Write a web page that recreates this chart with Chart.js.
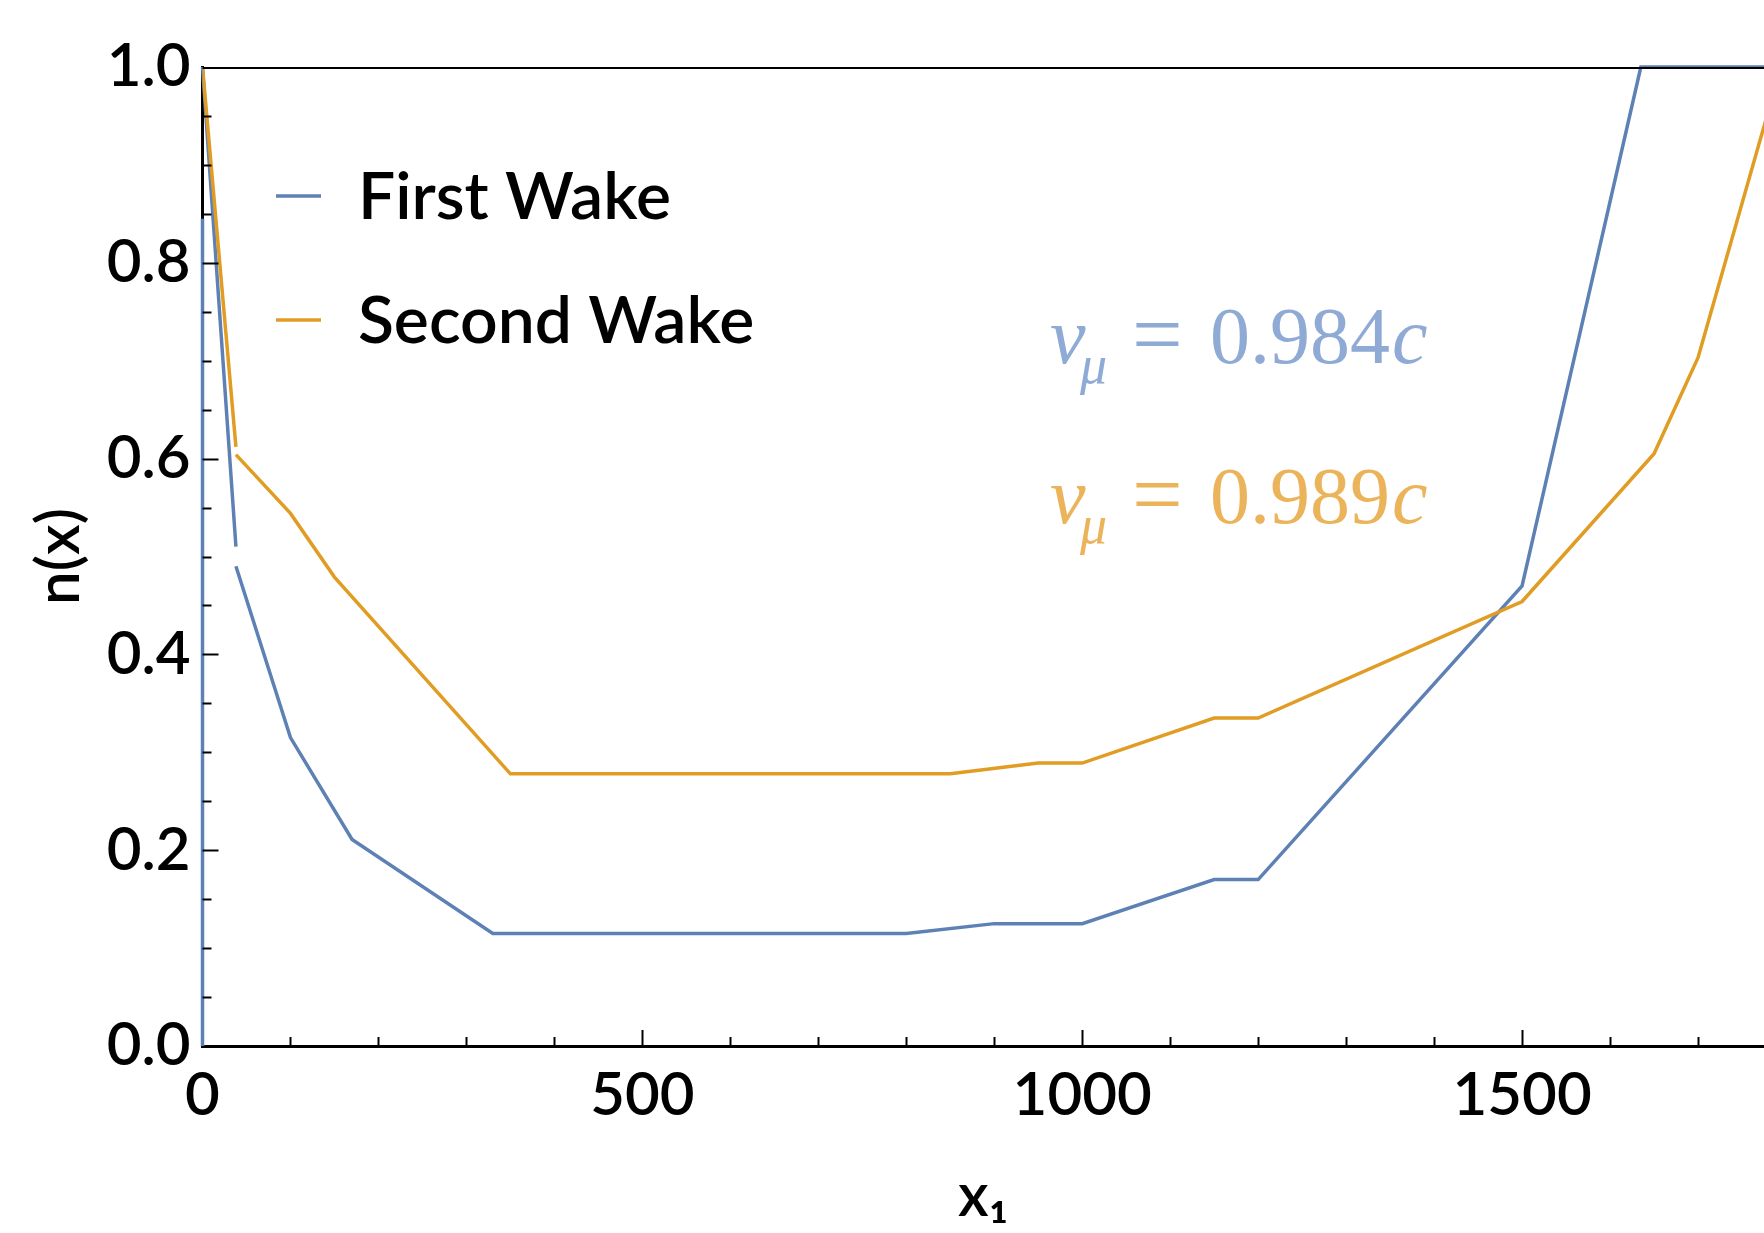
<!DOCTYPE html>
<html>
<head>
<meta charset="utf-8">
<title>n(x) wakes</title>
<script src="https://cdn.jsdelivr.net/npm/chart.js@4/dist/chart.umd.min.js"></script>
<style>
	body { margin: 0; background: #ffffff; }
	canvas { display: block; }
</style>
</head>
<body>
<canvas id="wakeChart" width="1764" height="1233"></canvas>
<script>
'use strict';

// values (null = break in the line)
const firstWakeX = [0, 0, 0, 0, 38, 38, 38, 100, 170, 330, 800, 900, 1000, 1150, 1200, 1500, 1635, 1780];
const firstWakeY = [0, 0.845, null, 1.0, 0.51, null, 0.49, 0.315, 0.211, 0.115, 0.115, 0.125, 0.125, 0.170, 0.170, 0.470, 1.0, 1.0];

const secondWakeX = [0, 38, 38, 38, 100, 150, 350, 850, 950, 1000, 1150, 1200, 1500, 1650, 1700, 1780];
const secondWakeY = [1.0, 0.612, null, 0.604, 0.544, 0.479, 0.278, 0.278, 0.289, 0.289, 0.335, 0.335, 0.454, 0.605, 0.703, 0.955];

const seriesLabels = ['First Wake', 'Second Wake'];
const seriesColors = ['#5e81b5', '#e19c24'];
const noteColors = ['#8eaad5', '#ebb45a'];
const noteValues = ['0.984', '0.989'];

const xTickValues = [0, 500, 1000, 1500];
const yTickValues = [0, 0.2, 0.4, 0.6, 0.8, 1.0];

const sansFont = "Lato, 'Open Sans', sans-serif";
const serifFont = "'Liberation Serif', 'DejaVu Serif', serif";

function toPoints(xs, ys) {
	let points = [];
	for (let i = 0; i < xs.length; i++) {
		points.push({ x: xs[i], y: ys[i] });
	}
	return points;
}

// inward ticks, top frame line, legend and velocity notes
const framePlugin = {
	id: 'framePlugin',
	afterDraw(chart) {
		const ctx = chart.ctx;
		const area = chart.chartArea;
		const xs = chart.scales.x;
		const ys = chart.scales.y;

		ctx.save();
		ctx.strokeStyle = '#000000';

		// top frame
		ctx.lineWidth = 2;
		ctx.beginPath();
		ctx.moveTo(area.left, area.top + 1);
		ctx.lineTo(area.right, area.top + 1);
		ctx.stroke();

		// x ticks every 100, long every 500
		ctx.lineWidth = 2;
		for (let v = 100; v < xs.max; v += 100) {
			const px = Math.round(xs.getPixelForValue(v)) + 0.5;
			const len = v % 500 === 0 ? 16 : 9;
			ctx.beginPath();
			ctx.moveTo(px, area.bottom);
			ctx.lineTo(px, area.bottom - len);
			ctx.stroke();
		}
		// y ticks every 0.05, long every 0.2
		for (let i = 1; i < 20; i++) {
			const v = i * 0.05;
			const py = Math.round(ys.getPixelForValue(v)) + 0.5;
			const len = i % 4 === 0 ? 16 : 9;
			ctx.beginPath();
			ctx.moveTo(area.left, py);
			ctx.lineTo(area.left + len, py);
			ctx.stroke();
		}

		// legend
		ctx.font = '600 66px ' + sansFont;
		ctx.textBaseline = 'middle';
		ctx.textAlign = 'left';
		const legendY = [196, 320];
		for (let i = 0; i < seriesLabels.length; i++) {
			ctx.strokeStyle = seriesColors[i];
			ctx.lineWidth = 3.5;
			ctx.beginPath();
			ctx.moveTo(276, legendY[i]);
			ctx.lineTo(321, legendY[i]);
			ctx.stroke();
			ctx.fillStyle = '#000000';
			ctx.fillText(seriesLabels[i], 358, legendY[i] + 2);
		}

		// v_mu = ...c notes
		const noteBase = [363, 523];
		ctx.textBaseline = 'alphabetic';
		for (let i = 0; i < noteValues.length; i++) {
			const b = noteBase[i];
			ctx.fillStyle = noteColors[i];
			ctx.font = 'italic 80px ' + serifFont;
			ctx.fillText('v', 1050, b);
			ctx.font = 'italic 54px ' + serifFont;
			ctx.fillText('\u03bc', 1080, b + 20);
			ctx.font = '90px ' + serifFont;
			ctx.fillText('=', 1132, b + 2);
			ctx.font = '80px ' + serifFont;
			ctx.fillText(noteValues[i], 1210, b);
			const w = ctx.measureText(noteValues[i]).width;
			ctx.font = 'italic 80px ' + serifFont;
			ctx.fillText('c', 1210 + w + 2, b);
		}
		ctx.restore();
	}
};

const chart = new Chart(document.getElementById('wakeChart'), {
	type: 'scatter',
	data: {
		datasets: [{
			label: seriesLabels[0],
			data: toPoints(firstWakeX, firstWakeY),
			showLine: true,
			borderColor: seriesColors[0],
			backgroundColor: seriesColors[0],
			borderWidth: 3.5,
			pointRadius: 0,
			spanGaps: false,
			clip: 4,
			order: 2
		}, {
			label: seriesLabels[1],
			data: toPoints(secondWakeX, secondWakeY),
			showLine: true,
			borderColor: seriesColors[1],
			backgroundColor: seriesColors[1],
			borderWidth: 3.5,
			pointRadius: 0,
			spanGaps: false,
			order: 1
		}]
	},
	options: {
		responsive: false,
		animation: false,
		devicePixelRatio: 1,
		layout: {
			padding: { top: 67, right: 0, bottom: 0, left: 0 }
		},
		plugins: {
			legend: { display: false },
			tooltip: { enabled: false }
		},
		scales: {
			x: {
				type: 'linear',
				min: 0,
				max: 1775,
				afterBuildTicks: (scale) => {
					scale.ticks = xTickValues.map((v) => ({ value: v }));
				},
				afterFit: (scale) => {
					scale.height = 187;
				},
				grid: { display: false, drawTicks: false },
				border: { display: true, color: '#000000', width: 3 },
				ticks: {
					color: '#000000',
					padding: 14,
					maxRotation: 0,
					autoSkip: false,
					font: { family: sansFont, size: 60, weight: '600' },
					callback: (value) => String(value)
				},
				title: {
					display: true,
					text: 'x\u2081',
					color: '#000000',
					font: { family: sansFont, size: 60, weight: '600' },
					padding: { top: 0, bottom: 0 }
				}
			},
			y: {
				type: 'linear',
				min: 0,
				max: 1,
				afterBuildTicks: (scale) => {
					scale.ticks = yTickValues.map((v) => ({ value: v }));
				},
				afterFit: (scale) => {
					scale.width = 202.5;
				},
				grid: { display: false, drawTicks: false },
				border: { display: true, color: '#000000', width: 3 },
				ticks: {
					color: '#000000',
					padding: 12,
					autoSkip: false,
					font: { family: sansFont, size: 60, weight: '600' },
					callback: (value) => value.toFixed(1)
				},
				title: {
					display: true,
					text: 'n(x)',
					color: '#000000',
					font: { family: sansFont, size: 60, weight: '600' },
					padding: { top: 24, bottom: 0 }
				}
			}
		}
	},
	plugins: [framePlugin]
});
</script>
</body>
</html>
